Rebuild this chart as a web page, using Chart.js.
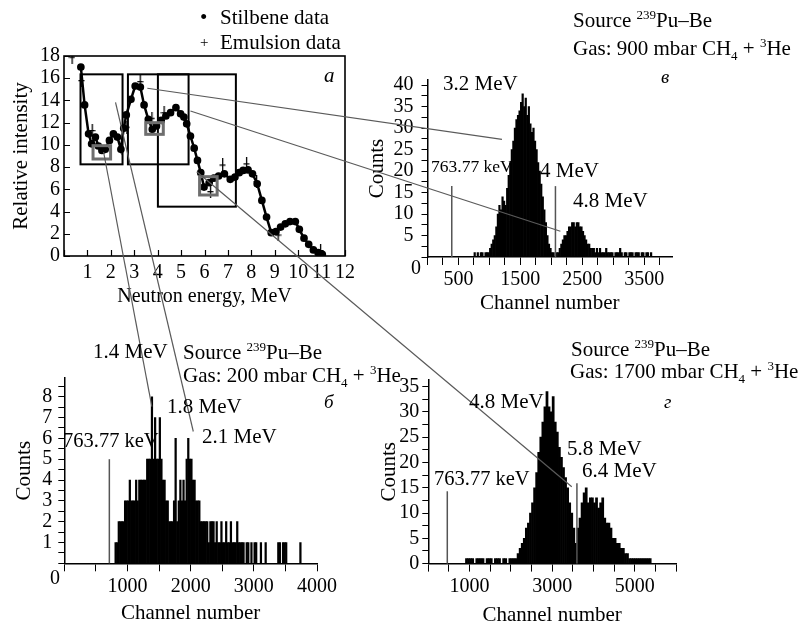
<!DOCTYPE html>
<html>
<head>
<meta charset="utf-8">
<script src="https://cdn.jsdelivr.net/npm/chart.js@4.4.0/dist/chart.umd.min.js"></script>
<style>
  body { margin: 0; background: #fff; }
  #fig { position: relative; width: 799px; height: 624px; overflow: hidden; font-family: "Liberation Serif", serif; color: #000; }
  #fig canvas { position: absolute; }
  .t { position: absolute; white-space: nowrap; line-height: 1; font-size: 21px; transform: translateY(-50%); }
  .t sup, .t sub { font-size: 0.62em; line-height: 0; }
  .i { font-style: italic; font-size: 21px; }
</style>
</head>
<body>
<div id="fig">
  <canvas id="chartA" width="360" height="280" style="left:0;top:40px"></canvas>
  <canvas id="chartV" width="330" height="260" style="left:360px;top:60px"></canvas>
  <canvas id="chartB" width="340" height="270" style="left:0;top:360px"></canvas>
  <canvas id="chartG" width="330" height="270" style="left:360px;top:360px"></canvas>
  <canvas id="links" width="799" height="624" style="left:0;top:0;pointer-events:none"></canvas>

  <div class="t" style="left:200px;top:17px">•</div>
  <div class="t" style="left:220px;top:17px">Stilbene data</div>
  <div class="t" style="left:200px;top:42px;font-size:15px">+</div>
  <div class="t" style="left:220px;top:42px">Emulsion data</div>
  <div class="t i" style="left:324px;top:75px">а</div>

  <div class="t" style="left:573px;top:20px">Source <sup>239</sup>Pu–Be</div>
  <div class="t" style="left:573px;top:48px">Gas: 900 mbar CH<sub>4</sub> + <sup>3</sup>He</div>
  <div class="t i" style="left:661px;top:76px;font-size:19px">в</div>
  <div class="t" style="left:443px;top:83px">3.2 MeV</div>
  <div class="t" style="left:431px;top:167px;font-size:17.5px">763.77 keV</div>
  <div class="t" style="left:540px;top:170px">4 MeV</div>
  <div class="t" style="left:573px;top:200px">4.8 MeV</div>
  <div class="t" style="left:411px;top:267px;font-size:20px">0</div>

  <div class="t" style="left:93px;top:351px">1.4 MeV</div>
  <div class="t" style="left:183px;top:352px">Source <sup>239</sup>Pu–Be</div>
  <div class="t" style="left:183px;top:375px">Gas: 200 mbar CH<sub>4</sub> + <sup>3</sup>He</div>
  <div class="t i" style="left:324px;top:401px;font-size:19px">б</div>
  <div class="t" style="left:167px;top:406px">1.8 MeV</div>
  <div class="t" style="left:202px;top:436px">2.1 MeV</div>
  <div class="t" style="left:63px;top:440px;font-size:20.5px">763.77 keV</div>
  <div class="t" style="left:50px;top:577px;font-size:20px">0</div>

  <div class="t" style="left:571px;top:349px">Source <sup>239</sup>Pu–Be</div>
  <div class="t" style="left:570px;top:371px">Gas: 1700 mbar CH<sub>4</sub> + <sup>3</sup>He</div>
  <div class="t i" style="left:664px;top:401px;font-size:19px">г</div>
  <div class="t" style="left:469px;top:401px">4.8 MeV</div>
  <div class="t" style="left:567px;top:448px">5.8 MeV</div>
  <div class="t" style="left:582px;top:470px">6.4 MeV</div>
  <div class="t" style="left:434px;top:478px;font-size:20.5px">763.77 keV</div>
</div>

<script>
// panel а - neutron spectrum
var stilbeneEnergy = [0.72,0.88,1.05,1.18,1.34,1.47,1.62,1.76,1.94,2.11,2.28,2.43,2.55,2.66,2.86,3.04,3.26,3.42,3.6,3.77,
  3.95,4.15,4.35,4.55,4.78,4.98,5.12,5.24,5.4,5.56,5.7,5.84,5.98,6.2,6.4,6.6,6.85,7.1,7.3,7.48,
  7.65,7.86,8.05,8.25,8.45,8.65,8.85,9.05,9.25,9.45,9.65,9.88,10.05,10.25,10.45,10.65,10.85,11.03];
var stilbeneIntensity = [17.0,13.6,11.0,10.1,10.7,9.9,9.5,9.6,10.4,11.0,10.7,9.6,11.5,12.7,14.1,15.3,15.2,13.6,12.3,11.4,
  11.7,12.2,12.6,12.9,13.35,12.8,12.5,11.9,10.8,9.7,8.6,7.5,6.2,6.6,7.0,7.2,7.4,6.9,7.1,7.5,
  7.7,7.75,7.4,6.5,5.0,3.5,2.1,2.2,2.6,2.9,3.1,3.1,2.4,1.6,1.05,0.55,0.3,0.15];
var emulsionEnergy = [0.34,0.74,1.2,2.68,3.25,3.75,4.27,6.25,6.77,7.79,8.22,9.14,10.95];
var emulsionIntensity = [17.9,15.8,11.3,11.6,15.7,12.4,12.9,5.8,8.2,8.3,6.7,1.9,0.5];

// energy windows marked on panel а: [Emin, Emax, Imin, Imax]
var windowRanges = [[0.705,2.50,8.25,16.35],[2.73,5.32,8.25,16.35],[4.01,7.34,4.44,16.35]];
var peakRanges = [[1.24,1.99,8.73,9.93],[3.49,4.24,10.95,12.0],[5.79,6.54,5.49,7.14]];

// panel в - 900 mbar
var binStartV = 725, binWidthV = 25;
var countsV = [0,1,0,1,0,1,1,0,1,1,1,2,3,4,5,7,10,12,11,14,13,12,16,19,22,25,27,30,32,33,
  34,36,38,35,37,33,35,31,29,30,27,25,22,20,17,14,11,8,5,3,2,1,1,0,1,1,2,3,4,5,
  5,6,7,7,8,8,7,8,8,7,7,6,5,4,3,3,2,2,2,1,2,1,2,1,1,1,2,1,1,1,
  1,0,1,1,1,2,1,0,1,1,0,1,1,1,0,1,1,1,0,1,1,0,1,1,0,1];
var markersV = [[392,16.5],[2067,16.5]];

// panel б - 200 mbar
var binStartB = 675, binWidthB = 25;
var countsB = [0,0,0,0,0,1,1,2,2,2, 2,3,3,3,4,3,3,3,4,3, 4,4,4,4,4,5,5,5,8,5,
  7,5,5,7,5,4,4,3,3,2, 2,2,3,6,2,3,4,3,4,3, 5,6,5,5,4,4,3,3,3,2,
  2,2,2,2,1,2,2,2,1,2, 1,1,2,1,1,2,1,1,2,1, 1,1,2,1,1,1,1,0,1,1,
  0,1,0,1,1,0,0,1,0,0, 1,0,0,0,0,0,0,0,1,1, 0,1,1,1,0,0,0,0,0,0, 0,0,1,0];
var markersB = [[713,5]];

// panel г - 1700 mbar
var binStartG = 850, binWidthG = 50;
var countsG = [0,1,1,1,1,0,1,1,1,1,0,1,1,1,0,1,1,1,0,1,1,0,1,1,1,1,2,3,4,5,
  7,8,10,12,15,18,22,25,28,31,34,31,30,33,28,26,23,21,19,17,15,12,10,7,4,7,9,12,14,15,
  12,13,13,12,13,11,12,13,9,8,8,7,5,5,4,4,3,3,2,2,1,1,1,1,1,1,1,1,1,1,1,0];
var markersG = [[460,14.3],[3600,15.9]];

// guide lines from panel а to the spectra: [E, I] -> [channel, counts]
var linksToB = [[[1.69,9.36],[1386,7.52]],[[2.20,13.83],[2042,6.33]]];
var linksToV = [[[3.56,15.1],[1203,27.4]],[[5.40,13.05],[2147,6.0]]];
var linksToG = [[[5.67,7.59],[3475,15.2]]];

Chart.defaults.font.family = '"Liberation Serif", serif';
Chart.defaults.font.size = 20;
Chart.defaults.color = '#000';

function toBins(start, width, counts) {
  return counts.map(function(c, i) { return { x: start + width * (i + 0.5), y: c }; });
}

// narrow "+" with a longer vertical bar, like the emulsion points
var plusMark = document.createElement('canvas');
plusMark.width = 7; plusMark.height = 13;
var pm = plusMark.getContext('2d');
pm.fillStyle = '#000';
pm.fillRect(3, 0, 1.3, 13);
pm.fillRect(0.5, 6, 6, 1.3);

var spectrumDecor = {
  id: 'spectrumDecor',
  afterDraw: function(chart) {
    var ctx = chart.ctx, a = chart.chartArea, x = chart.scales.x, y = chart.scales.y;
    ctx.save();
    ctx.strokeStyle = '#000';
    ctx.lineWidth = 1.2;
    ctx.beginPath();
    x.ticks.forEach(function(t) {
      var px = Math.round(x.getPixelForValue(t.value)) + 0.5;
      ctx.moveTo(px, a.bottom); ctx.lineTo(px, a.bottom - 6);
    });
    y.ticks.forEach(function(t) {
      var py = Math.round(y.getPixelForValue(t.value)) + 0.5;
      ctx.moveTo(a.left, py); ctx.lineTo(a.left + 6, py);
    });
    ctx.stroke();
    ctx.lineWidth = 1.6;
    ctx.strokeRect(a.left, a.top, a.right - a.left, a.bottom - a.top);
    ctx.lineWidth = 2;
    windowRanges.forEach(function(r) {
      var l = x.getPixelForValue(r[0]), rr = x.getPixelForValue(r[1]);
      var b = y.getPixelForValue(r[2]), tp = y.getPixelForValue(r[3]);
      ctx.strokeRect(l, tp, rr - l, b - tp);
    });
    ctx.strokeStyle = '#6e6e6e';
    ctx.lineWidth = 3;
    peakRanges.forEach(function(r) {
      var l = x.getPixelForValue(r[0]), rr = x.getPixelForValue(r[1]);
      var b = y.getPixelForValue(r[2]), tp = y.getPixelForValue(r[3]);
      ctx.strokeRect(l, tp, rr - l, b - tp);
    });
    ctx.restore();
  }
};

var markerLines = {
  id: 'markerLines',
  afterDatasetsDraw: function(chart, args, opts) {
    var ctx = chart.ctx, x = chart.scales.x, y = chart.scales.y;
    ctx.save();
    ctx.strokeStyle = '#555';
    ctx.lineWidth = 1.5;
    (opts.lines || []).forEach(function(m) {
      var px = x.getPixelForValue(m[0]);
      ctx.beginPath();
      ctx.moveTo(px, y.getPixelForValue(0));
      ctx.lineTo(px, y.getPixelForValue(m[1]));
      ctx.stroke();
    });
    ctx.restore();
  }
};

var chartA = new Chart(document.getElementById('chartA'), {
  type: 'scatter',
  data: {
    datasets: [{
      label: 'Stilbene data',
      data: stilbeneEnergy.map(function(e, i) { return { x: e, y: stilbeneIntensity[i] }; }),
      showLine: true,
      borderColor: '#000',
      backgroundColor: '#000',
      borderWidth: 2.5,
      pointRadius: 2.6,
      tension: 0
    }, {
      label: 'Emulsion data',
      data: emulsionEnergy.map(function(e, i) { return { x: e, y: emulsionIntensity[i] }; }),
      showLine: false,
      pointStyle: plusMark,
      borderColor: '#000'
    }]
  },
  options: {
    responsive: false,
    animation: false,
    devicePixelRatio: 1,
    layout: { padding: { left: 0, top: 15, right: 12, bottom: 0 } },
    plugins: { legend: { display: false }, tooltip: { enabled: false } },
    scales: {
      x: {
        type: 'linear', min: 0, max: 12,
        afterFit: function(s) { s.height = 64; },
        grid: { display: false, drawTicks: false },
        border: { display: false },
        ticks: { stepSize: 1, padding: 5, autoSkip: false, maxRotation: 0,
          callback: function(v) { return v === 0 ? '' : v; } },
        title: { display: true, text: 'Neutron energy, MeV', font: { size: 20 }, padding: { bottom: 11 } }
      },
      y: {
        min: 0, max: 18,
        afterFit: function(s) { s.width = 64; },
        grid: { display: false, drawTicks: false },
        border: { display: false },
        ticks: { stepSize: 2, padding: 4, autoSkip: false },
        title: { display: true, text: 'Relative intensity', font: { size: 21 }, padding: { top: 9 } }
      }
    }
  },
  plugins: [spectrumDecor]
});

function evenTicks(max, step) {
  return function(s) {
    var t = [];
    for (var v = 0; v <= max + 1e-9; v += step) t.push({ value: Math.round(v * 100) / 100 });
    s.ticks = t;
  };
}

function histogram(id, bins, opts) {
  return new Chart(document.getElementById(id), {
    type: 'bar',
    data: {
      datasets: [{
        data: bins,
        backgroundColor: '#000',
        borderWidth: 0,
        barPercentage: 1,
        categoryPercentage: 1
      }]
    },
    options: {
      responsive: false,
      animation: false,
      devicePixelRatio: 1,
      layout: { padding: opts.padding },
      plugins: { legend: { display: false }, tooltip: { enabled: false }, markerLines: { lines: opts.markers } },
      scales: {
        x: {
          type: 'linear', min: 0, max: opts.xMax, offset: false,
          afterBuildTicks: evenTicks(opts.xMax, opts.xStep),
          afterFit: function(s) { s.height = opts.xHeight; },
          grid: { display: true, offset: false, drawOnChartArea: false, tickLength: 8, color: '#000' },
          border: { display: true, color: '#000', width: 1.5 },
          ticks: { autoSkip: false, maxRotation: 0, padding: 3,
            callback: function(v) { return opts.xLabels.indexOf(v) >= 0 ? v : ''; } },
          title: { display: true, text: 'Channel number', font: { size: 21 }, padding: { bottom: opts.xTitlePad } }
        },
        y: {
          min: 0, max: opts.yMax,
          afterBuildTicks: evenTicks(opts.yMax, opts.yStep),
          afterFit: function(s) { s.width = opts.yWidth; },
          grid: { display: true, drawOnChartArea: false, tickLength: 6, color: '#000' },
          border: { display: true, color: '#000', width: 1.5 },
          ticks: { autoSkip: false, padding: opts.yTickPad,
            callback: function(v) { return (v % opts.yLabelStep === 0 && (v !== 0 || opts.zeroOnY)) ? v : ''; } },
          title: { display: true, text: 'Counts', font: { size: 21 }, padding: { top: opts.yTitlePad } }
        }
      }
    },
    plugins: [markerLines]
  });
}

var chartV = histogram('chartV', toBins(binStartV, binWidthV, countsV), {
  padding: { left: 0, top: 15, right: 18, bottom: 0 },
  xMax: 3950, xStep: 250, xLabels: [500, 1500, 2500, 3500], xHeight: 63, xTitlePad: 4,
  yMax: 41.2, yStep: 2.5, yLabelStep: 5, yWidth: 67.5, zeroOnY: false, yTickPad: 8, yTitlePad: 5,
  markers: markersV
});
var chartB = histogram('chartB', toBins(binStartB, binWidthB, countsB), {
  padding: { left: 0, top: 17, right: 20, bottom: 0 },
  xMax: 4000, xStep: 500, xLabels: [1000, 2000, 3000, 4000], xHeight: 66.7, xTitlePad: 4,
  yMax: 8.9, yStep: 0.5, yLabelStep: 1, yWidth: 64.3, zeroOnY: false, yTickPad: 6, yTitlePad: 12,
  markers: markersB
});
var chartG = histogram('chartG', toBins(binStartG, binWidthG, countsG), {
  padding: { left: 0, top: 20, right: 14, bottom: 0 },
  xMax: 6000, xStep: 500, xLabels: [1000, 3000, 5000], xHeight: 66.4, xTitlePad: 2,
  yMax: 36.3, yStep: 2.5, yLabelStep: 5, yWidth: 68.3, zeroOnY: true, yTickPad: 3, yTitlePad: 17,
  markers: markersG
});

// guide lines across panels
function pagePoint(chart, p) {
  var c = chart.canvas;
  return [c.offsetLeft + chart.scales.x.getPixelForValue(p[0]), c.offsetTop + chart.scales.y.getPixelForValue(p[1])];
}
var lctx = document.getElementById('links').getContext('2d');
lctx.strokeStyle = '#5a5a5a';
lctx.lineWidth = 1.2;
[[chartB, linksToB], [chartV, linksToV], [chartG, linksToG]].forEach(function(pair) {
  pair[1].forEach(function(l) {
    var a = pagePoint(chartA, l[0]), b = pagePoint(pair[0], l[1]);
    lctx.beginPath();
    lctx.moveTo(a[0], a[1]);
    lctx.lineTo(b[0], b[1]);
    lctx.stroke();
  });
});
</script>
</body>
</html>
